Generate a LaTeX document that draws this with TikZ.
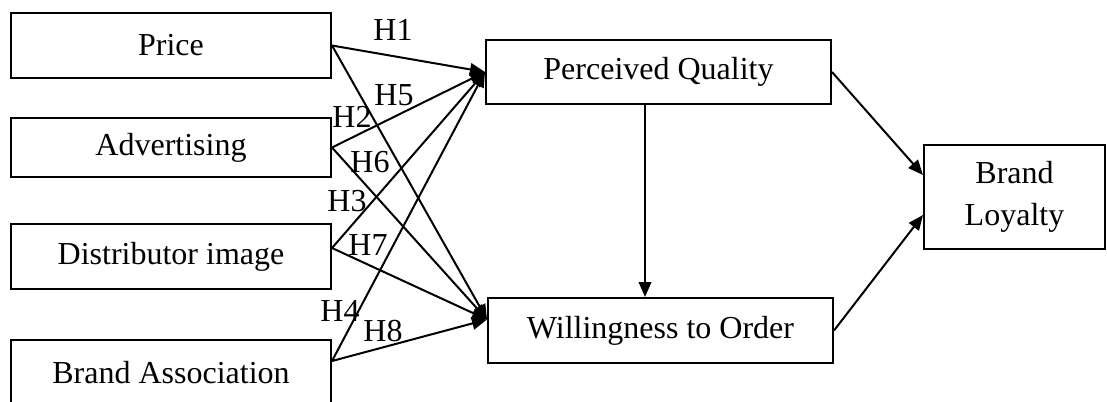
\documentclass[tikz,border=0pt]{standalone}
\usepackage{fontspec}
\setmainfont{Liberation Serif}
\usetikzlibrary{positioning,arrows.meta}

\begin{document}
\begin{tikzpicture}[x=0.4pt, y=-0.4pt,
		factor/.style={rectangle, draw=black, line width=0.8pt, fill=white, minimum width=128pt, minimum height=26pt, inner sep=0pt, font=\fontsize{12.8}{17}\selectfont},
		outcome/.style={factor, minimum width=138pt},
		hyp/.style={inner sep=0pt, font=\fontsize{12.8}{15}\selectfont},
		path/.style={line width=0.8pt, -{Triangle[length=6pt, width=5pt]}}
	]
	\useasboundingbox (0,0) rectangle (1107,401);
	% left column
	\node[factor] (price) at (171,45.5) {Price};
	\node[factor, minimum height=23.6pt] (advert) [below=15.2pt of price] {Advertising};
	\node[factor] (distimage) [below=18pt of advert] {Distributor image};
	\node[factor] (brandassoc) [below=19.6pt of distimage] {Brand Association};
	% middle and right
	\node[outcome, minimum height=25.6pt] (quality) at (658.5,72) {Perceived Quality};
	\node[outcome] (willing) [below=76.8pt of quality, xshift=0.8pt] {Willingness to Order};
	\node[factor, minimum width=72.4pt, minimum height=41.6pt, align=center] (loyalty) at (1014.5,197) {Brand\\Loyalty};
	% hypothesis labels
	\node[hyp] (hone) at (393,30) {H1};
	\node[hyp] (htwo) at (352,117) {H2};
	\node[hyp] (hthree) at (347,201) {H3};
	\node[hyp] (hfour) at (340,311) {H4};
	\node[hyp] (hfive) at (394,95) {H5};
	\node[hyp] (hsix) at (370,162) {H6};
	\node[hyp] (hseven) at (368,245) {H7};
	\node[hyp] (height) at (383,331) {H8};
	\begin{scope}[path]
	\draw (price.east) -- (quality.west);
	\draw (advert.east) -- (quality.west);
	\draw ([yshift=3.4pt]distimage.east) -- (quality.west);
	\draw ([yshift=4.6pt]brandassoc.east) -- (quality.west);
	\draw (price.east) -- ([yshift=4.4pt]willing.west);
	\draw (advert.east) -- ([yshift=4.4pt]willing.west);
	\draw ([yshift=3.4pt]distimage.east) -- ([yshift=4.4pt]willing.west);
	\draw ([yshift=4.6pt]brandassoc.east) -- ([yshift=4.4pt]willing.west);
	\draw ([xshift=-5.4pt]quality.south) -- ([xshift=-5.4pt]quality.south |- willing.north);
	\draw (quality.east) -- ([yshift=8.8pt]loyalty.west);
	\draw (willing.east) -- ([yshift=-7.2pt]loyalty.west);
	\end{scope}
\end{tikzpicture}
\end{document}
